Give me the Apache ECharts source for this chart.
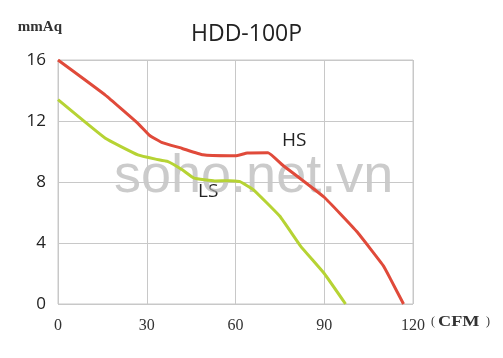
<!DOCTYPE html>
<html><head><meta charset="utf-8">
<script src="https://cdn.jsdelivr.net/npm/echarts@6/dist/echarts.min.js"></script>
<style>html,body{margin:0;padding:0;background:#fff}#c{width:503px;height:358px}</style>
</head><body><div id="c"></div>
<script>
var title = 'HDD-100P';
var hsX = [0, 16, 27, 31, 35, 42, 49, 58, 60, 64, 71, 76, 90, 101, 110, 112.5, 116.8];
var hsY = [16, 13.7, 11.85, 11.05, 10.6, 10.2, 9.78, 9.72, 9.72, 9.9, 9.92, 9.1, 7.0, 4.75, 2.5, 1.6, 0];
var lsX = [0, 16, 27, 33, 37, 42, 46, 53, 58, 61.5, 66, 75, 82, 90, 97.2];
var lsY = [13.4, 10.87, 9.78, 9.5, 9.35, 8.8, 8.25, 8.07, 8.08, 8.02, 7.5, 5.75, 3.8, 2.0, 0];
var xTicks = [0, 30, 60, 90, 120];
var yTicks = [0, 4, 8, 12, 16];
function pairs(xs, ys){ return xs.map(function(x,i){return [x, ys[i]];}); }
var chart = echarts.init(document.getElementById('c'), null, {renderer:'canvas'});
chart.setOption({
  animation:false,
  backgroundColor:'#fff',
  title:{text:title, left:186, top:18,
    textStyle:{fontFamily:'Open Sans', fontSize:23, fontWeight:'normal', color:'#222'}},
  grid:{left:58, right:90, top:60, bottom:54, show:true, borderColor:'#c8c8c8', borderWidth:1},
  xAxis:{type:'value', min:xTicks[0], max:xTicks[xTicks.length-1], interval:30,
    axisLine:{show:false}, axisTick:{show:false},
    splitLine:{show:true, lineStyle:{color:'#c8c8c8', width:1}},
    axisLabel:{margin:14, fontFamily:'Liberation Serif', fontSize:16, color:'#333'}},
  yAxis:{type:'value', min:yTicks[0], max:yTicks[yTicks.length-1], interval:4,
    name:'mmAq', nameLocation:'end', nameGap:25,
    nameTextStyle:{fontFamily:'Liberation Serif', fontSize:15, fontWeight:'bold', color:'#333', align:'right', padding:[0,-4,0,0]},
    axisLine:{show:false}, axisTick:{show:false},
    splitLine:{show:true, lineStyle:{color:'#c8c8c8', width:1}},
    axisLabel:{margin:12, fontFamily:'Open Sans', fontSize:17, color:'#222'}},
  series:[
    {name:'HS', type:'line', data:pairs(hsX, hsY), smooth:0.1, symbol:'none',
      lineStyle:{color:'#e04a3a', width:3}},
    {name:'LS', type:'line', data:pairs(lsX, lsY), smooth:0.1, symbol:'none',
      lineStyle:{color:'#b6d334', width:3}}
  ],
  graphic:[
    {type:'text', left:431, top:316, style:{text:'(', font:'12px "Liberation Serif"', fill:'#333'}},
    {type:'text', left:438, top:315, scaleX:1.3, style:{text:'CFM', font:'bold 14px "Liberation Serif"', fill:'#333'}},
    {type:'text', left:486, top:316, style:{text:')', font:'12px "Liberation Serif"', fill:'#333'}},
    {type:'text', left:282, top:131, style:{text:'HS', font:'19px "Open Sans"', fill:'#222'}},
    {type:'text', left:198, top:182, style:{text:'LS', font:'19px "Open Sans"', fill:'#222'}},
    {type:'text', left:114, top:150, silent:true, style:{text:'soho.net.vn', font:'54px "Liberation Sans"', fill:'rgba(175,175,175,0.65)'}}
  ]
});
</script></body></html>
